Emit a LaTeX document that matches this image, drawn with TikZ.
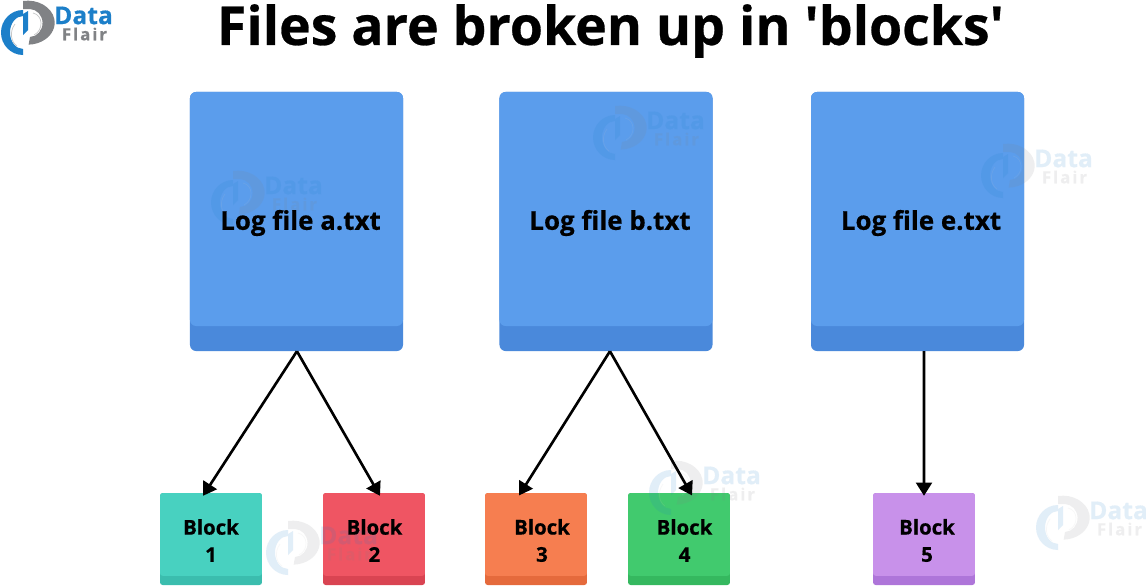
\documentclass[tikz,border=0pt]{standalone}
\usepackage{fontspec}
\setmainfont{Open Sans}[BoldFeatures={FakeBold=0.5}]
\newfontfamily\plainfont{Open Sans}[BoldFeatures={FakeBold=0.5}]
\usetikzlibrary{arrows.meta,positioning,calc}
\definecolor{FileBlue}{HTML}{5B9DEC}
\definecolor{FileBand}{HTML}{4A89DB}
\definecolor{LogoBlue}{HTML}{1C7FC9}
\definecolor{LogoGrey}{HTML}{808285}
\definecolor{TealTop}{HTML}{48D1C0}
\definecolor{TealBand}{HTML}{3BBDAE}
\definecolor{RedTop}{HTML}{EF5563}
\definecolor{RedBand}{HTML}{D94452}
\definecolor{OrangeTop}{HTML}{F67E50}
\definecolor{OrangeBand}{HTML}{E56A3C}
\definecolor{GreenTop}{HTML}{41CA6E}
\definecolor{GreenBand}{HTML}{35B85F}
\definecolor{PurpleTop}{HTML}{C891EA}
\definecolor{PurpleBand}{HTML}{AE75D9}
\tikzset{
  filebox/.style={draw=none,fill=FileBand,rounded corners=7pt,minimum width=242.4pt,minimum height=294.8pt,inner sep=0pt},
  filetop/.style={draw=none,fill=FileBlue,rounded corners=7pt,minimum width=242.4pt,minimum height=266.3pt,inner sep=0pt},
  blockbox/.style={draw=none,rounded corners=3pt,minimum width=116pt,minimum height=104.7pt,inner sep=0pt},
  blocktop/.style={draw=none,rounded corners=3pt,minimum width=116pt,minimum height=94pt,inner sep=0pt},
  filetext/.style={font=\bfseries\fontsize{29.5}{32}\selectfont,text=black,inner sep=0pt},
  blocktext/.style={font=\bfseries\fontsize{23.2}{31}\selectfont,text=black,align=center,inner sep=0pt},
  flow/.style={draw=black,line width=3pt,-{Triangle[length=15pt,width=18pt]}},
  pics/dflogo/.style={code={
    \fill[LogoBlue] (23,10) arc[start angle=-90,end angle=-270,x radius=22,y radius=22.5] -- (23,49) arc[start angle=-270,end angle=-90,x radius=13,y radius=16.5] -- cycle;
    \fill[LogoGrey] (23,1) arc[start angle=-100,end angle=88,x radius=27,y radius=22] -- (30,37) arc[start angle=88,end angle=-88,x radius=13,y radius=14] -- (23,9) -- cycle;
    \fill[LogoBlue] (23,14) -- (28,11) -- (28,30) -- (23,35) -- cycle;
    \draw[LogoGrey!45,line width=0.8pt] (15,24) .. controls (9,32) and (11,42) .. (17,46);
    \draw[LogoGrey!45,line width=0.8pt] (33,13) .. controls (43,15) and (44,30) .. (34,35);
    \node[anchor=center,text=LogoBlue,font=\bfseries\fontsize{28}{28}\selectfont,inner sep=0pt] (dataText) at (83.5,15.5) {Data};
    \node[anchor=center,text=LogoGrey,font=\bfseries\fontsize{19}{19}\selectfont\addfontfeature{LetterSpace=12},inner sep=0pt] (flairText) at (84.5,34) {Flair};
  }}
}
\begin{document}
\begin{tikzpicture}[x=0.04cm,y=-0.04cm]
\useasboundingbox (0,0) rectangle (1146,585);
\fill[white] (0,0) rectangle (1146,585);
% logo and heading
\pic at (0,0) {dflogo};
\node[font=\plainfont\bfseries\fontsize{61}{70}\selectfont,inner sep=0pt] (heading) at (610.5,31) {Files are broken up in 'blocks'};
% log files
\node[filebox] (fileA) at (296.5,221.5) {};
\node[filebox] (fileB) at (606,221.5) {};
\node[filebox] (fileE) at (917.5,221.5) {};
\node[filetop] (topA) at (296.5,209) {};
\node[filetop] (topB) at (606,209) {};
\node[filetop] (topE) at (917.5,209) {};
% blocks
\node[blockbox,fill=TealBand] (blockOne) at (211,539) {};
\node[blockbox,fill=RedBand] (blockTwo) at (374,539) {};
\node[blockbox,fill=OrangeBand] (blockThree) at (536,539) {};
\node[blockbox,fill=GreenBand] (blockFour) at (679,539) {};
\node[blockbox,fill=PurpleBand] (blockFive) at (924,539) {};
\node[blocktop,fill=TealTop] (topOne) at (211,534.5) {};
\node[blocktop,fill=RedTop] (topTwo) at (374,534.5) {};
\node[blocktop,fill=OrangeTop] (topThree) at (536,534.5) {};
\node[blocktop,fill=GreenTop] (topFour) at (679,534.5) {};
\node[blocktop,fill=PurpleTop] (topFive) at (924,534.5) {};
% watermarks
\begin{scope}[opacity=0.13,transparency group]
\pic at (210,170) {dflogo};
\pic at (592,105) {dflogo};
\pic at (980,143) {dflogo};
\pic at (648,460) {dflogo};
\pic at (265,520) {dflogo};
\pic at (1035,495) {dflogo};
\end{scope}
% labels
\node[filetext] (textA) at (300.5,223) {Log file a.txt};
\node[filetext] (textB) at (610,223) {Log file b.txt};
\node[filetext] (textE) at (921,223) {Log file e.txt};
\node[blocktext] (textOne) at (211,540.5) {Block\\1};
\node[blocktext] (textTwo) at (374.5,540.5) {Block\\2};
\node[blocktext] (textThree) at (542,540.5) {Block\\3};
\node[blocktext] (textFour) at (684.5,540.5) {Block\\4};
\node[blocktext] (textFive) at (927,540.5) {Block\\5};
% arrows
\draw[flow] ([xshift=0.5pt]fileA.south) -- ([xshift=-9.1pt,yshift=-3.4pt]blockOne.north);
\draw[flow] ([xshift=0.5pt]fileA.south) -- ([xshift=6.8pt,yshift=-3.4pt]blockTwo.north);
\draw[flow] ([xshift=4.5pt]fileB.south) -- ([xshift=-19.3pt,yshift=-3pt]blockThree.north);
\draw[flow] ([xshift=4.5pt]fileB.south) -- ([xshift=14.8pt,yshift=-3pt]blockFour.north);
\draw[flow] ([xshift=7.4pt]fileE.south) -- ([yshift=-3.4pt]blockFive.north);
\end{tikzpicture}
\end{document}
